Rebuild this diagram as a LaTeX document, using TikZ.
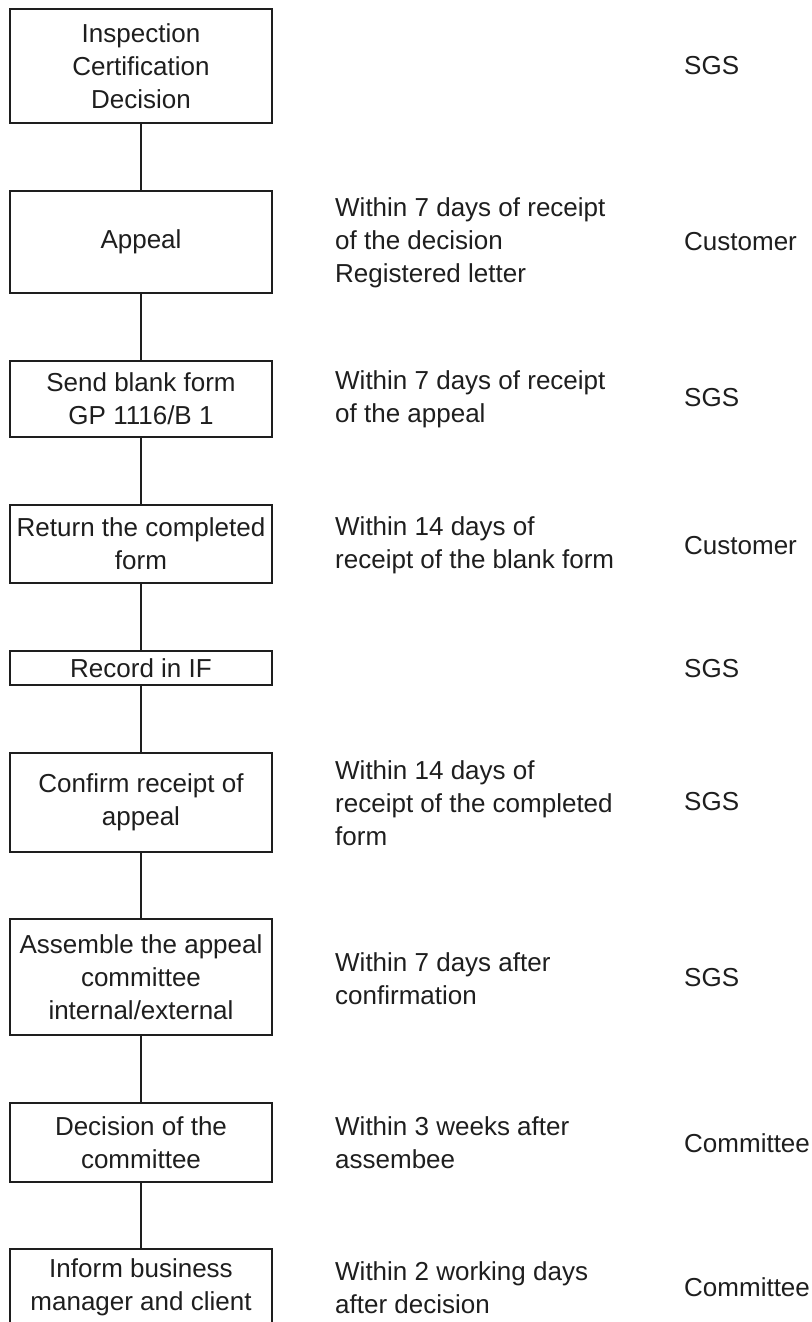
\documentclass[tikz,border=0pt]{standalone}
\usepackage{fontspec}
\setmainfont{Liberation Sans}
\newcommand{\diagfont}{\fontsize{26}{33}\selectfont}
\definecolor{ink}{HTML}{1E1E1E}
\begin{document}
\begin{tikzpicture}[x=1pt,y=-1pt,
  box/.style={draw=ink, line width=1.6pt, minimum width=262pt, inner sep=0pt, align=center, font=\diagfont, text=ink},
  note/.style={anchor=west, inner sep=0pt, align=left, font=\diagfont, text=ink},
  link/.style={draw=ink, line width=1.6pt}]
\useasboundingbox (0,0) rectangle (811,1322);
\clip (0,0) rectangle (811,1322);
% flow boxes
\node[box, minimum height=114pt] (b1) at (141,66) {Inspection\\Certification\\Decision};
\node[box, minimum height=102pt] (b2) at (141,242) {Appeal};
\node[box, minimum height=76pt] (b3) at (141,399) {Send blank form\\GP 1116/B 1};
\node[box, minimum height=78pt] (b4) at (141,544) {Return the completed\\form};
\node[box, minimum height=34pt] (b5) at (141,668) {Record in IF};
\node[box, minimum height=99pt] (b6) at (141,802.5) {Confirm receipt of\\appeal};
\node[box, minimum height=116pt] (b7) at (141,977) {Assemble the appeal\\committee\\internal/external};
\node[box, minimum height=79pt] (b8) at (141,1142.5) {Decision of the\\committee};
\node[box, minimum height=76pt] (b9) at (141,1287) {Inform business\\manager and client};
% connectors
\draw[link] (b1) -- (b2);
\draw[link] (b2) -- (b3);
\draw[link] (b3) -- (b4);
\draw[link] (b4) -- (b5);
\draw[link] (b5) -- (b6);
\draw[link] (b6) -- (b7);
\draw[link] (b7) -- (b8);
\draw[link] (b8) -- (b9);
% time limits
\node[note] (t2) at (335,243) {Within 7 days of receipt\\of the decision\\Registered letter};
\node[note] (t3) at (335,399) {Within 7 days of receipt\\of the appeal};
\node[note] (t4) at (335,545) {Within 14 days of\\receipt of the blank form};
\node[note] (t6) at (335,803) {Within 14 days of\\receipt of the completed\\form};
\node[note] (t7) at (335,979) {Within 7 days after\\confirmation};
\node[note] (t8) at (335,1143) {Within 3 weeks after\\assembee};
\node[note] (t9) at (335,1288) {Within 2 working days\\after decision};
% responsible
\node[note] (r1) at (684,66) {SGS};
\node[note] (r2) at (684,242) {Customer};
\node[note] (r3) at (684,398) {SGS};
\node[note] (r4) at (684,546) {Customer};
\node[note] (r5) at (684,669) {SGS};
\node[note] (r6) at (684,802) {SGS};
\node[note] (r7) at (684,977.5) {SGS};
\node[note] (r8) at (684,1143) {Committee};
\node[note] (r9) at (684,1287.5) {Committee};
\end{tikzpicture}
\end{document}
